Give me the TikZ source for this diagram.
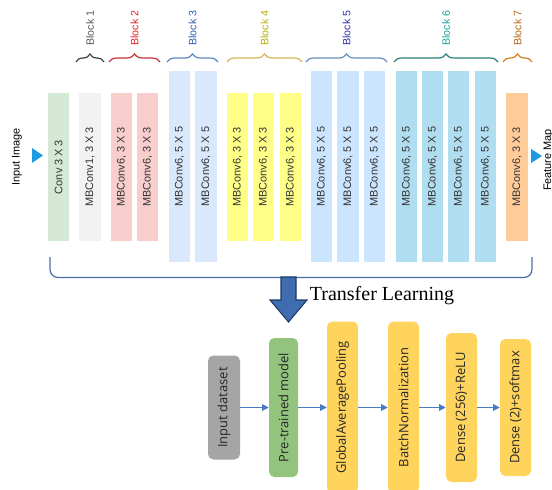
\documentclass[tikz,border=0pt]{standalone}
\usepackage{fontspec}
\setmainfont{Liberation Sans}
\newfontfamily\serifTL{Liberation Serif}
\newfontfamily\osans{Open Sans}
\usetikzlibrary{decorations.pathreplacing,arrows.meta}
\definecolor{cgreen}{HTML}{D5E8D4}
\definecolor{cgrey}{HTML}{F2F2F2}
\definecolor{cred}{HTML}{F8CECC}
\definecolor{cblue}{HTML}{DAE8FC}
\definecolor{cyellow}{HTML}{FFFF88}
\definecolor{cblfive}{HTML}{CCE5FF}
\definecolor{cblsix}{HTML}{B1DDF0}
\definecolor{corange}{HTML}{FFCC99}
\definecolor{tri}{HTML}{1E9BE0}
\definecolor{bracketc}{HTML}{4A6FA5}
\definecolor{bigarrow}{HTML}{3F6DB0}
\definecolor{bigarrowd}{HTML}{1F3A66}
\definecolor{flowblue}{HTML}{4A7AC4}
\definecolor{sgrey}{HTML}{A5A5A5}
\definecolor{sgreen}{HTML}{93C47D}
\definecolor{syellow}{HTML}{FFD45C}
\definecolor{lone}{HTML}{595959}\definecolor{bone}{HTML}{404040}
\definecolor{ltwo}{HTML}{E8202A}\definecolor{btwo}{HTML}{C8323C}
\definecolor{lthree}{HTML}{2F5FB0}\definecolor{bthree}{HTML}{5B86C5}
\definecolor{lfour}{HTML}{B8B000}\definecolor{bfour}{HTML}{D6B656}
\definecolor{lfive}{HTML}{3333AA}\definecolor{bfive}{HTML}{6C8EBF}
\definecolor{lsix}{HTML}{1AA39A}\definecolor{bsix}{HTML}{2A7F7F}
\definecolor{lseven}{HTML}{B5651D}\definecolor{bseven}{HTML}{D97D1E}
\begin{document}
\begin{tikzpicture}[x=0.75pt,y=-0.75pt,
  layer/.style={rotate=90, inner sep=0pt, font=\fontsize{8.2}{10}\selectfont, text=black!80},
  short/.style={layer, minimum width=148*0.75pt, minimum height=21.5*0.75pt},
  tall/.style={layer, minimum width=191*0.75pt, minimum height=21.5*0.75pt},
  blabel/.style={rotate=90, anchor=west, inner sep=0pt, font=\fontsize{8}{10}\selectfont},
  brc/.style={decorate, decoration={brace, amplitude=6pt}, line width=0.9pt},
  side/.style={rotate=90, inner sep=0pt, font=\fontsize{8.2}{10}\selectfont, text=black},
  stage/.style={rotate=90, rounded corners=4pt, inner sep=0pt, font=\osans\fontsize{9.7}{12}\selectfont, text=black!85},
  flow/.style={-{Triangle[length=5pt,width=5pt]}, draw=flowblue, line width=0.8pt}]
\useasboundingbox (0,0) rectangle (552,489);
\fill[white] (0,0) rectangle (552,489);

% block labels and braces
\node[blabel, text=lone] (l1) at (90,46) {Block 1};
\node[blabel, text=ltwo] (l2) at (134.5,46) {Block 2};
\node[blabel, text=lthree] (l3) at (192.5,46) {Block 3};
\node[blabel, text=lfour] (l4) at (264.5,46) {Block 4};
\node[blabel, text=lfive] (l5) at (346.5,46) {Block 5};
\node[blabel, text=lsix] (l6) at (446,46) {Block 6};
\node[blabel, text=lseven] (l7) at (517.5,46) {Block 7};
\draw[brc, bone] (76,62) -- (104,62);
\draw[brc, btwo] (109,62) -- (160,62);
\draw[brc, bthree] (167,62) -- (218,62);
\draw[brc, bfour] (227,62) -- (302,62);
\draw[brc, bfive] (306,62) -- (387,62);
\draw[brc, bsix] (394,62) -- (498,62);
\draw[brc, bseven] (503,62) -- (532,62);

% layers
\node[short, fill=cgreen] (c1) at (58.5,167) {Conv 3 X 3};
\node[short, fill=cgrey] (b1) at (90,167) {MBConv1, 3 X 3};
\node[short, fill=cred] (r1) at (121.5,167) {MBConv6, 3 X 3};
\node[short, fill=cred] (r2) at (147.5,167) {MBConv6, 3 X 3};
\node[tall, fill=cblue] (t1) at (179.5,166.5) {MBConv6, 5 X 5};
\node[tall, fill=cblue] (t2) at (206,166.5) {MBConv6, 5 X 5};
\node[short, fill=cyellow] (y1) at (237.5,167) {MBConv6, 3 X 3};
\node[short, fill=cyellow] (y2) at (263.5,167) {MBConv6, 3 X 3};
\node[short, fill=cyellow] (y3) at (290.5,167) {MBConv6, 3 X 3};
\node[tall, fill=cblfive] (f1) at (321.5,166.5) {MBConv6, 5 X 5};
\node[tall, fill=cblfive] (f2) at (348,166.5) {MBConv6, 5 X 5};
\node[tall, fill=cblfive] (f3) at (374.5,166.5) {MBConv6, 5 X 5};
\node[tall, fill=cblsix] (s1) at (406.5,166.5) {MBConv6, 5 X 5};
\node[tall, fill=cblsix] (s2) at (432.5,166.5) {MBConv6, 5 X 5};
\node[tall, fill=cblsix] (s3) at (458.5,166.5) {MBConv6, 5 X 5};
\node[tall, fill=cblsix] (s4) at (485.5,166.5) {MBConv6, 5 X 5};
\node[short, fill=corange] (o7) at (517,167) {MBConv6, 3 X 3};

% input / output
\node[side] (inimg) at (17,157) {Input Image};
\fill[tri] (32,148) -- (43,155.5) -- (32,163) -- cycle;
\fill[tri] (531,149) -- (542,156) -- (531,163) -- cycle;
\node[side] (fmap) at (548.5,160) {Feature Map};

% big bracket
\draw[bracketc, line width=0.9pt, rounded corners=6pt] (50,257) -- (50,277.5) -- (532,277.5) -- (532,257);

% transfer arrow
\filldraw[fill=bigarrow, draw=bigarrowd, line width=0.8pt]
  (281,277) -- (296,277) -- (296,300) -- (307,300) -- (288.5,322) -- (270,300) -- (281,300) -- cycle;
\node[font=\serifTL\fontsize{15}{18}\selectfont, inner sep=0pt] (tl) at (382,296) {Transfer Learning};

% pipeline
\node[stage, fill=sgrey, minimum width=104*0.75pt, minimum height=32*0.75pt] (ind) at (224,407.5) {Input dataset};
\node[stage, fill=sgreen, minimum width=139*0.75pt, minimum height=29*0.75pt] (pre) at (283.5,407.5) {Pre-trained model};
\node[stage, fill=syellow, minimum width=172*0.75pt, minimum height=31*0.75pt] (gap) at (342.5,407.5) {GlobalAveragePooling};
\node[stage, fill=syellow, minimum width=172*0.75pt, minimum height=31*0.75pt] (bn) at (403.5,407.5) {BatchNormalization};
\node[stage, fill=syellow, minimum width=149*0.75pt, minimum height=31*0.75pt] (d256) at (461.5,407.5) {Dense (256)+ReLU};
\node[stage, fill=syellow, minimum width=137*0.75pt, minimum height=31*0.75pt] (d2) at (515.5,407.5) {Dense (2)+softmax};
\draw[flow] (ind) -- (pre);
\draw[flow] (pre) -- (gap);
\draw[flow] (gap) -- (bn);
\draw[flow] (bn) -- (d256);
\draw[flow] (d256) -- (d2);
\end{tikzpicture}
\end{document}
